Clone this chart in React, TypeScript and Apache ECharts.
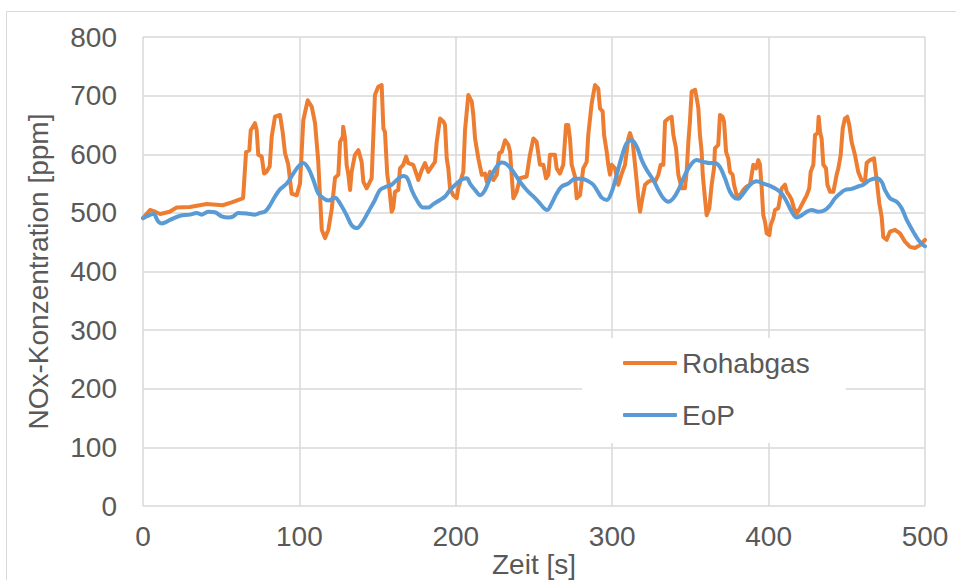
import React, { useEffect, useRef } from "react";
import * as echarts from "echarts";

// Rohabgas (raw exhaust) NOx, time [s] and value [ppm]
const rohTime = [
  0, 4.5, 7.7, 11, 17, 21.5, 30, 40.7, 51, 56.7, 62, 64, 65.9, 68, 68.9, 71.6, 72.7, 73.7, 75.9, 77.4,
  79, 81, 82.3, 84.4, 87.6, 89.3, 90.8, 92.9, 95, 98.3, 100.4, 102.5, 105.3, 107.9, 110, 112, 114.3, 116.4, 118.5, 120.6,
  122.8, 124.9, 126, 127.7, 128, 129.2, 130.2, 131.3, 132.4, 133.4, 135.5, 137.7, 139.8, 140.9, 143, 145.1, 146.2, 147.3, 148.3, 150.4,
  152.6, 153.7, 154.7, 156.2, 157.5, 159, 160, 161.1, 163.2, 164.3, 166.4, 168.2, 169.6, 172.8, 175, 176, 178.2, 180.3, 182.4, 184.6,
  186.7, 187.8, 189.9, 192, 193.1, 194.2, 195.2, 196.3, 198.4, 200.6, 201.6, 204.8, 205.9, 208, 210.2, 211.2, 212.3, 214.4, 216.6, 218.7,
  219.8, 221.9, 224, 226.2, 227.8, 229.4, 231.5, 233.6, 234.7, 235.7, 236.8, 238.9, 241, 245.3, 247.4, 249.6, 251.7, 253.8, 256, 257.7,
  259.2, 260.2, 263.4, 264.5, 266.6, 268.7, 270.5, 271.9, 273, 274.1, 276.2, 277.3, 279.4, 281.5, 283.7, 284.7, 286.9, 289, 291.1, 292.2,
  293.9, 294.8, 296.5, 297.5, 298.6, 299.7, 301.8, 303.9, 306.1, 308.2, 310.3, 311.4, 313.1, 314.6, 315.7, 316.7, 317.8, 318.9, 321, 323.1,
  325.3, 327.4, 329.5, 331, 332.7, 333.8, 335.9, 338, 339.1, 340.8, 342.3, 344.4, 346.5, 347.6, 348.7, 349.7, 350.8, 353, 354.4, 355.1,
  356.1, 357.2, 357.9, 359.3, 360.4, 362.1, 363.6, 365.1, 365.7, 367.8, 368.9, 370.5, 371.5, 372.8, 374.2, 375.3, 377, 377.9, 379.6, 381.7,
  383.8, 386, 388.1, 389.2, 390.2, 392, 393.4, 394.5, 395.6, 396.6, 397.7, 398.8, 400.5, 401.3, 403, 404.1, 406.2, 407.3, 408.4, 410.5,
  411.6, 413.2, 414.8, 416.2, 418, 420.1, 422.2, 424.4, 426, 426.9, 428.6, 429.7, 431.4, 432, 432.9, 433.9, 435, 436.7, 437.6, 439.3,
  441.4, 443.5, 444.6, 446.1, 447.4, 448.8, 450.3, 451.6, 453.1, 455.2, 457.3, 459.4, 461.6, 462.7, 464.8, 467.4, 469.1, 470.8, 472.3, 473.3,
  475.5, 477.6, 480.8, 484, 487.2, 490.4, 493.6, 496.8, 500,
];
const rohValues = [
  491, 505, 502, 498, 502, 509, 510, 515, 513, 518, 523, 525, 604, 607, 641, 653, 641, 599, 596, 567,
  570, 579, 630, 664, 667, 638, 602, 582, 533, 530, 550, 658, 692, 681, 653, 590, 471, 457, 471, 505,
  560, 565, 621, 630, 647, 627, 582, 565, 539, 570, 599, 607, 587, 553, 542, 553, 559, 633, 701, 715,
  718, 644, 638, 565, 542, 502, 508, 536, 539, 576, 582, 596, 585, 582, 565, 556, 573, 585, 570, 579,
  587, 621, 661, 656, 650, 593, 576, 542, 530, 525, 542, 570, 641, 701, 690, 667, 627, 593, 565, 567,
  553, 570, 556, 565, 602, 604, 624, 616, 604, 565, 525, 536, 559, 562, 599, 627, 621, 582, 582, 559,
  565, 599, 599, 576, 567, 582, 650, 650, 627, 582, 562, 525, 530, 576, 587, 633, 687, 718, 712, 678,
  673, 633, 604, 582, 565, 582, 576, 548, 567, 582, 627, 636, 621, 582, 553, 525, 502, 519, 548, 553,
  556, 553, 565, 582, 582, 656, 661, 664, 633, 610, 565, 542, 542, 570, 621, 656, 707, 710, 690, 678,
  633, 604, 565, 525, 496, 508, 548, 576, 610, 616, 667, 664, 656, 604, 593, 570, 565, 548, 530, 530,
  539, 545, 548, 565, 582, 576, 590, 582, 542, 496, 485, 465, 462, 479, 491, 505, 508, 525, 542, 548,
  536, 530, 522, 508, 499, 508, 519, 530, 542, 570, 582, 633, 636, 664, 638, 627, 582, 576, 548, 536,
  536, 565, 576, 599, 644, 661, 664, 650, 621, 599, 570, 556, 553, 585, 590, 593, 556, 516, 493, 459,
  454, 468, 471, 465, 451, 442, 440, 445, 454,
];

// EoP NOx, time [s] and value [ppm]
const eopTime = [
  0, 2.3, 6.6, 9.8, 11.9, 17.3, 23.7, 30, 34.3, 37.5, 41.8, 46, 50.3, 54.6, 57.8, 60.9, 66.3, 71.6, 74.8, 78,
  81.2, 84.4, 87.6, 91.9, 96.1, 99.3, 102.5, 105.7, 108.9, 112.1, 115.3, 118.5, 122.8, 126, 130.2, 133.4, 136.6, 139.8, 144.1, 148.3,
  151.5, 155.8, 159, 162.2, 166.4, 169, 171.8, 175, 179.2, 182.4, 185.6, 189.9, 193.1, 196.3, 200.6, 203.8, 207, 209.1, 212.3, 215.5,
  218.7, 221.9, 226.2, 229.4, 232.5, 236.8, 241, 245.3, 249.6, 253.8, 256.4, 258.5, 261.3, 264.5, 267.7, 271.9, 276.2, 280.5, 284.7, 287.9,
  291.1, 293.3, 296.5, 299.7, 302.9, 306.1, 309.3, 312.5, 315.7, 318.9, 322.1, 326.3, 329.5, 332.7, 335.9, 339.1, 342.3, 345.5, 349.7, 354,
  358.3, 362.5, 365.7, 368.9, 372.1, 375.3, 378.5, 380.6, 383.8, 388.1, 392.4, 396.6, 400.9, 405.2, 408.4, 411.6, 414.8, 418, 421.2, 424.4,
  427.6, 431.8, 436.1, 439.3, 442.5, 445.7, 448.8, 453.1, 457.3, 460.5, 464.8, 469.1, 472.3, 474.4, 477.6, 481.9, 485.1, 488.3, 492.5, 495.7,
  498.9, 500,
];
const eopValues = [
  491, 494, 498, 485, 482, 488, 495, 497, 500, 497, 502, 501, 494, 492, 494, 500, 499, 497, 500, 502,
  513, 528, 540, 550, 567, 579, 585, 576, 556, 533, 525, 521, 526, 516, 496, 479, 474, 482, 502, 522,
  539, 545, 548, 556, 563, 559, 539, 522, 509, 509, 515, 522, 528, 539, 550, 557, 559, 550, 539, 530,
  539, 559, 579, 586, 583, 570, 553, 539, 528, 516, 508, 505, 516, 533, 545, 550, 558, 558, 554, 548,
  535, 526, 522, 536, 565, 596, 619, 624, 613, 590, 573, 556, 539, 525, 519, 525, 539, 559, 580, 590,
  587, 585, 585, 578, 559, 536, 525, 524, 533, 548, 554, 550, 546, 540, 533, 519, 502, 492, 496, 502,
  505, 502, 505, 513, 525, 533, 539, 541, 545, 548, 556, 559, 553, 539, 525, 519, 508, 488, 468, 454,
  445, 443,
];

const seriesNames = ["Rohabgas", "EoP"];
const xTicks = { min: 0, max: 500, interval: 100 };
const yTicks = { min: 0, max: 800, interval: 100 };

const FONT = "'Liberation Sans', Arial, sans-serif";
const TEXT = "#595959";
const GRID = "#d9d9d9";

export default function App() {
  const ref = useRef<HTMLDivElement>(null);

  useEffect(() => {
    if (!ref.current) return;
    const chart = echarts.init(ref.current, undefined, {
      renderer: "svg",
      width: 956,
      height: 580,
    });
    const roh = rohTime.map((t, i) => [t, rohValues[i]]);
    const eop = eopTime.map((t, i) => [t, eopValues[i]]);
    chart.setOption({
      animation: false,
      backgroundColor: "#ffffff",
      textStyle: { fontFamily: FONT },
      graphic: [
        {
          type: "rect",
          left: 4,
          top: 9,
          shape: { width: 1000, height: 1000 },
          style: { fill: "none", stroke: GRID, lineWidth: 1 },
          silent: true,
        },
      ],
      grid: {
        left: 143,
        top: 37,
        right: 31,
        bottom: 74,
        containLabel: false,
        outerBoundsMode: "none",
      },
      xAxis: {
        type: "value",
        min: xTicks.min,
        max: xTicks.max,
        interval: xTicks.interval,
        name: "Zeit [s]",
        nameLocation: "middle",
        nameGap: 44,
        nameMoveOverlap: false,
        nameTextStyle: { color: TEXT, fontSize: 28, fontFamily: FONT },
        axisLine: { show: false },
        axisTick: { show: false },
        axisLabel: { color: TEXT, fontSize: 28, fontFamily: FONT, margin: 16 },
        splitLine: { show: true, lineStyle: { color: GRID, width: 1.5 } },
      },
      yAxis: {
        type: "value",
        min: yTicks.min,
        max: yTicks.max,
        interval: yTicks.interval,
        name: "NOx-Konzentration [ppm]",
        nameLocation: "middle",
        nameGap: 91,
        nameMoveOverlap: false,
        nameTextStyle: { color: TEXT, fontSize: 28, fontFamily: FONT },
        axisLine: { show: false },
        axisTick: { show: false },
        axisLabel: { color: TEXT, fontSize: 28, fontFamily: FONT, margin: 26 },
        splitLine: { show: true, lineStyle: { color: GRID, width: 1.5 } },
      },
      legend: {
        data: seriesNames,
        orient: "vertical",
        left: 582,
        top: 338,
        backgroundColor: "#ffffff",
        padding: [11, 36, 14, 41],
        itemGap: 24,
        itemWidth: 54,
        itemHeight: 4,
        icon: "roundRect",
        textStyle: { color: TEXT, fontSize: 28, fontFamily: FONT },
      },
      series: [
        {
          name: seriesNames[0],
          type: "line",
          data: roh,
          symbol: "none",
          color: "#ED7D31",
          lineStyle: { color: "#ED7D31", width: 4, join: "round", cap: "round" },
          z: 3,
        },
        {
          name: seriesNames[1],
          type: "line",
          data: eop,
          symbol: "none",
          smooth: 0.35,
          color: "#5B9BD5",
          lineStyle: { color: "#5B9BD5", width: 4, join: "round", cap: "round" },
          z: 4,
        },
      ],
    });
    return () => chart.dispose();
  }, []);

  return (
    <div
      ref={ref}
      style={{ position: "fixed", left: 0, top: 0, width: 956, height: 580 }}
    />
  );
}
